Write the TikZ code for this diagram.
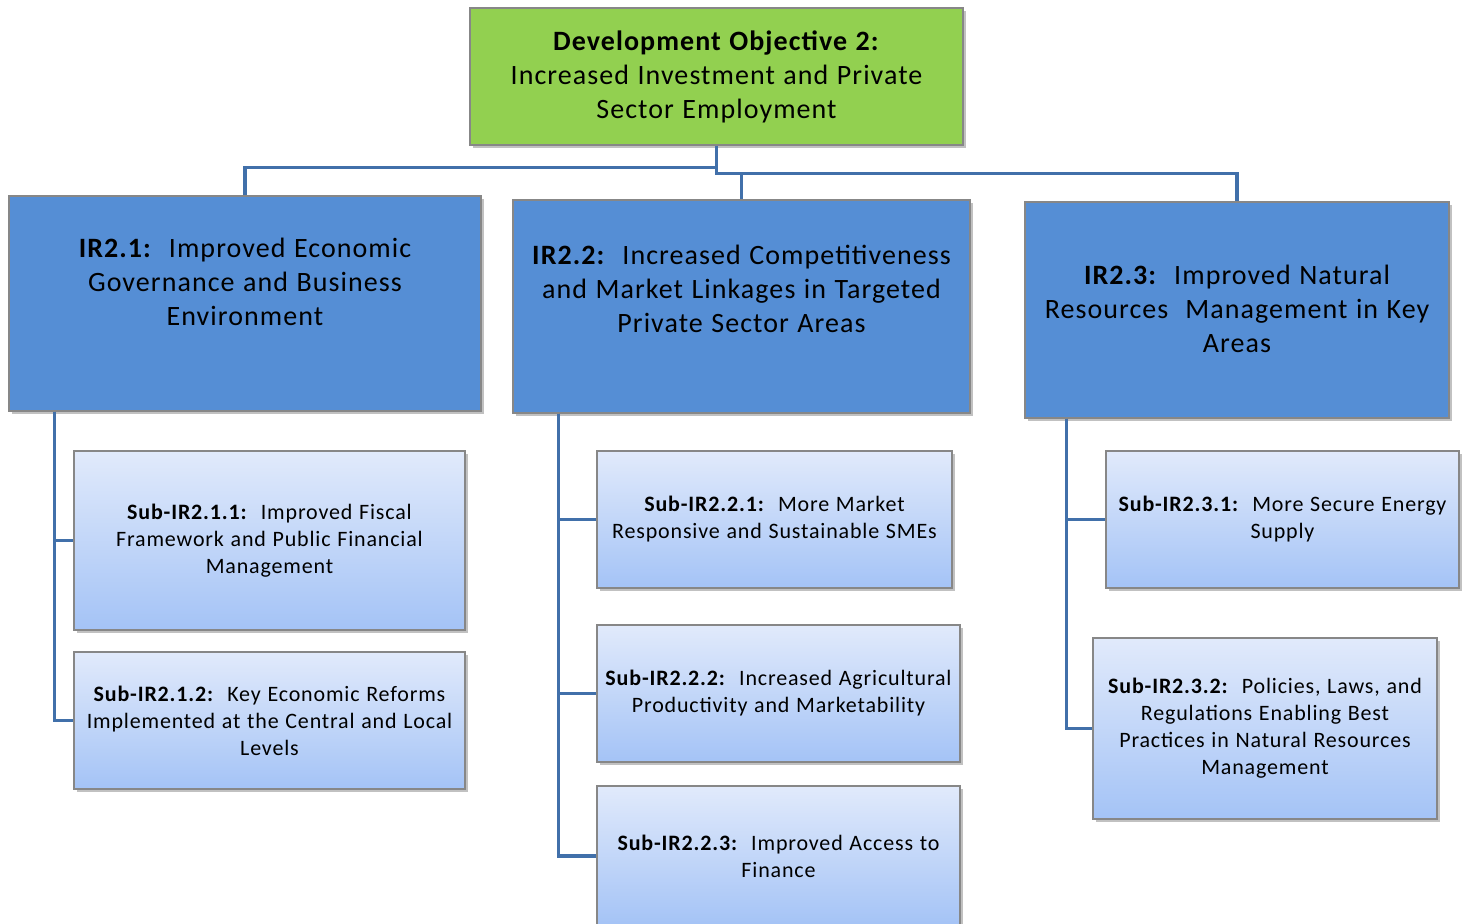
\documentclass[tikz,border=0pt]{standalone}
\usepackage{fontspec}
\setmainfont{Carlito}[LetterSpace=3.8,WordSpace=1.15]
\usetikzlibrary{positioning,shadows,calc}
\definecolor{doc}{RGB}{146,208,80}
\definecolor{irc}{RGB}{85,142,213}
\definecolor{subtop}{RGB}{225,234,251}
\definecolor{subbot}{RGB}{164,195,246}
\definecolor{linec}{RGB}{65,112,170}
\definecolor{edge}{RGB}{135,135,135}
\tikzset{
  boxbase/.style={
    draw=edge, line width=0.6pt, inner sep=0pt, align=center,
    drop shadow={shadow xshift=1.5pt, shadow yshift=-1.5pt, opacity=0.35, fill=black!70}
  },
  dobox/.style={boxbase, fill=doc, font=\fontsize{14}{17}\selectfont},
  irbox/.style={boxbase, fill=irc},
  irtext/.style={align=center, inner sep=0pt, font=\fontsize{14}{17}\selectfont},
  subbox/.style={boxbase, top color=subtop, bottom color=subbot, font=\fontsize{11}{13.5}\selectfont},
  link/.style={draw=linec, line width=1.6pt}
}
\begin{document}
\begin{tikzpicture}[x=0.5pt,y=-0.5pt]
\useasboundingbox (0,0) rectangle (1465,923);

% objective
\node[dobox, minimum width=246.5pt, minimum height=68.5pt] (do) at (716.5,76.5)
  {\textbf{Development Objective 2:}\\Increased Investment and Private\\Sector Employment};

% intermediate results
\node[irbox, minimum width=236pt, minimum height=107.5pt] (ir1) at (245,303.5) {};
\node[irbox, minimum width=228.5pt, minimum height=106.5pt] (ir2) at (741.5,306.5) {};
\node[irbox, minimum width=212pt, minimum height=108pt] (ir3) at (1237,310) {};
\node[irtext] (ir1t) at (245,282) {\textbf{IR2.1:}\ \ Improved Economic\\Governance and Business\\Environment};
\node[irtext] (ir2t) at (741.5,289) {\textbf{IR2.2:}\ \ Increased Competitiveness\\and Market Linkages in Targeted\\Private Sector Areas};
\node[irtext] (ir3t) at (1237,309) {\textbf{IR2.3:}\ \ Improved Natural\\Resources\ \ Management in Key\\Areas};

% sub results
\node[subbox, minimum width=195.5pt, minimum height=89.5pt] (sub11) at (269.5,540.5)
  {\textbf{Sub-IR2.1.1:}\ \ Improved Fiscal\\Framework and Public Financial\\Management};
\node[subbox, minimum width=195.5pt, minimum height=68.5pt] (sub12) at (269.5,720.5)
  {\textbf{Sub-IR2.1.2:}\ \ Key Economic Reforms\\Implemented at the Central and Local\\Levels};
\node[subbox, minimum width=177.5pt, minimum height=68.5pt] (sub21) at (774.5,519.5)
  {\textbf{Sub-IR2.2.1:}\ \ More Market\\Responsive and Sustainable SMEs};
\node[subbox, minimum width=181.5pt, minimum height=68.5pt] (sub22) at (778.5,693.5)
  {\textbf{Sub-IR2.2.2:}\ \ Increased Agricultural\\Productivity and Marketability};
\node[subbox, minimum width=181.5pt, minimum height=70pt] (sub23) at (778.5,856)
  {\textbf{Sub-IR2.2.3:}\ \ Improved Access to\\Finance};
\node[subbox, minimum width=176.5pt, minimum height=68.5pt] (sub31) at (1282.5,519.5)
  {\textbf{Sub-IR2.3.1:}\ \ More Secure Energy\\Supply};
\node[subbox, minimum width=172pt, minimum height=90.5pt] (sub32) at (1265,728.5)
  {\textbf{Sub-IR2.3.2:}\ \ Policies, Laws, and\\Regulations Enabling Best\\Practices in Natural Resources\\Management};

% top connectors
\coordinate (j1) at ($(do.south)+(0,22)$);
\coordinate (j2) at ($(j1)+(0,6)$);
\draw[link] (do.south) -- (j1) -| (ir1.north);
\draw[link] (j1) -- (j2) -| (ir3.north);
\draw[link] (j2) -| (ir2.north);

% side connectors
\coordinate (c1) at ($(ir1.south west)+(46,0)$);
\coordinate (c2) at ($(ir2.south west)+(46,0)$);
\coordinate (c3) at ($(ir3.south west)+(42,0)$);
\foreach \s in {sub11,sub12} \draw[link] (c1) |- (\s.west);
\foreach \s in {sub21,sub22,sub23} \draw[link] (c2) |- (\s.west);
\foreach \s in {sub31,sub32} \draw[link] (c3) |- (\s.west);

\end{tikzpicture}
\end{document}
